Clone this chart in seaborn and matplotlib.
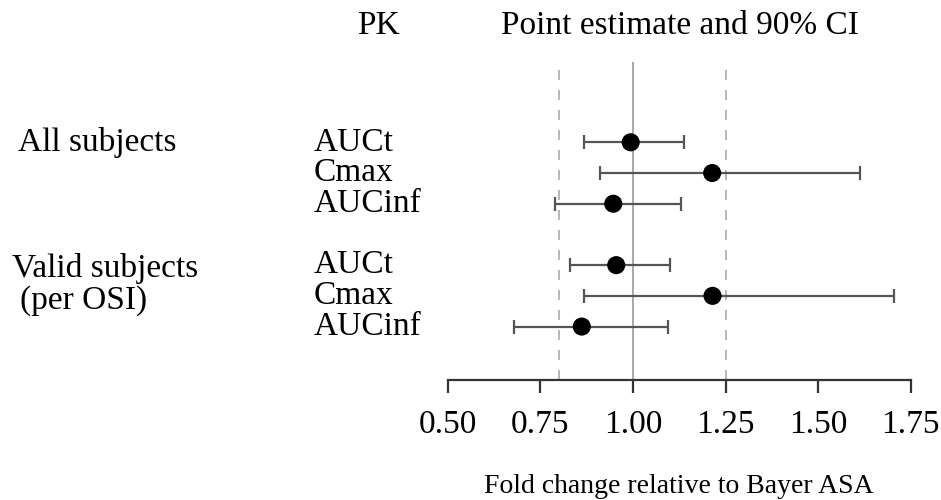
import numpy as np
import pandas as pd
import matplotlib
matplotlib.use("Agg")
import matplotlib.pyplot as plt
import matplotlib.transforms as mtransforms
import seaborn as sns

# Datos
grupos = ["All subjects", "All subjects", "All subjects",
          "Valid subjects", "Valid subjects", "Valid subjects"]
pk = ["AUCt", "Cmax", "AUCinf", "AUCt", "Cmax", "AUCinf"]
estimacion = [0.994, 1.214, 0.947, 0.955, 1.215, 0.862]
ic_inf = [0.869, 0.911, 0.791, 0.830, 0.869, 0.680]
ic_sup = [1.139, 1.613, 1.131, 1.099, 1.706, 1.094]
fila = [1, 2, 3, 5, 6, 7]
ticks_x = [0.50, 0.75, 1.00, 1.25, 1.50, 1.75]
limites = [0.80, 1.25]

df = pd.DataFrame({"grupo": grupos, "pk": pk, "est": estimacion,
                   "lo": ic_inf, "hi": ic_sup, "fila": fila})

sns.set_theme(style="white")
plt.rcParams["font.family"] = ["Liberation Serif", "DejaVu Serif"]
plt.rcParams["text.color"] = "black"
plt.rcParams["xtick.color"] = "black"
plt.rcParams["axes.labelcolor"] = "black"

W, H = 941, 500
fig = plt.figure(figsize=(W / 100, H / 100), dpi=100)
ax = fig.add_axes([447.7 / W, 1 - 380 / H, 463 / W, 318 / H])

# Lineas de referencia
ax.axvline(1.0, color="#999999", lw=1.2, zorder=1)
for v in limites:
    ax.axvline(v, color="#aaaaaa", lw=1.2, ls=(0, (6, 6)), zorder=1)

# Intervalos de confianza
ax.errorbar(df["est"], df["fila"],
            xerr=[df["est"] - df["lo"], df["hi"] - df["est"]],
            fmt="none", ecolor="#555555", elinewidth=1.6, capsize=5,
            capthick=1.6, zorder=2)

# Estimaciones puntuales
sns.scatterplot(data=df, x="est", y="fila", color="black", s=170,
                edgecolor="none", ax=ax, zorder=3, legend=False)

ax.set_xlim(0.5, 1.75)
ax.set_ylim(8.74, -1.615)
ax.set_xticks(ticks_x)
ax.set_xticklabels([f"{t:.2f}" for t in ticks_x], fontsize=24)
ax.set_yticks([])
ax.set_ylabel("")
ax.set_xlabel("Fold change relative to Bayer ASA", fontsize=20, labelpad=24)
for s in ["top", "left", "right"]:
    ax.spines[s].set_visible(False)
ax.spines["bottom"].set_color("#333333")
ax.spines["bottom"].set_linewidth(1.6)
ax.tick_params(axis="x", direction="out", length=9.5, width=1.6,
               color="#333333", pad=12, bottom=True)
ax.patch.set_alpha(0)

# Textos a la izquierda
tr = mtransforms.blended_transform_factory(fig.transFigure, ax.transData)
for _, r in df.iterrows():
    ax.text(314 / W, r["fila"], r["pk"], transform=tr, ha="left",
            va="center", fontsize=24, clip_on=False)
ax.text(18 / W, 1, "All subjects", transform=tr, ha="left", va="center",
        fontsize=24, clip_on=False)
ax.text(12 / W, 5.1, "Valid subjects", transform=tr, ha="left",
        va="center", fontsize=24, clip_on=False)
ax.text(20 / W, 6.15, "(per OSI)", transform=tr, ha="left", va="center",
        fontsize=24, clip_on=False)

# Encabezados
fig.text(357 / W, 1 - 26 / H, "PK", ha="left", va="center", fontsize=24)
fig.text(680 / W, 1 - 26 / H, "Point estimate and 90% CI", ha="center",
         va="center", fontsize=24)

fig.savefig("out.png", dpi=100)
